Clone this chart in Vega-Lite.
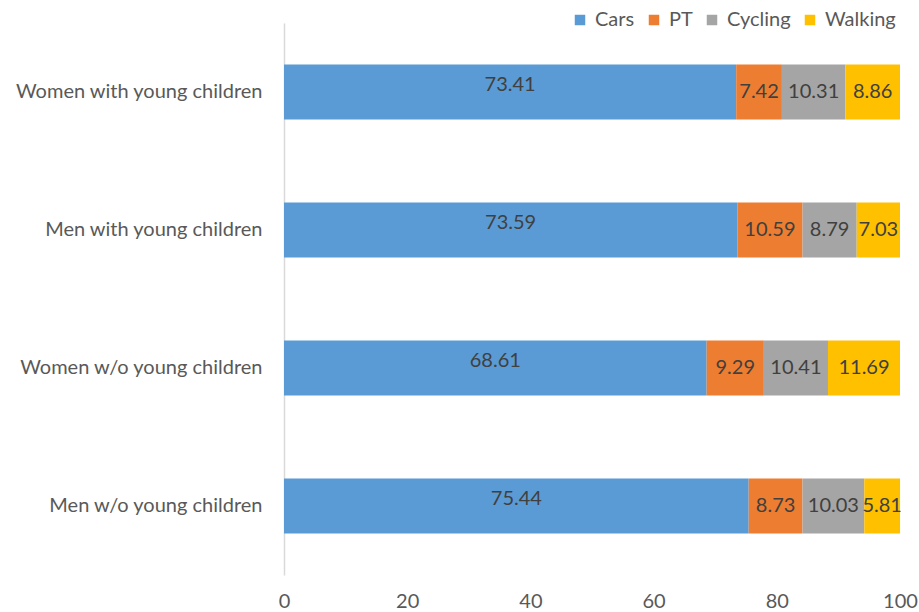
{
  "$schema": "https://vega.github.io/schema/vega-lite/v6.json",
  "autosize": "none",
  "width": 616,
  "height": 552,
  "padding": {"left": 284, "top": 23, "right": 19, "bottom": 37},
  "background": "white",
  "config": {
    "font": "Lato",
    "view": {"stroke": null}
  },
  "data": {
    "values": [
      {"group": "Women with young children", "mode": "Cars", "o": 1, "value": 73.41},
      {"group": "Women with young children", "mode": "PT", "o": 2, "value": 7.42},
      {"group": "Women with young children", "mode": "Cycling", "o": 3, "value": 10.31},
      {"group": "Women with young children", "mode": "Walking", "o": 4, "value": 8.86},
      {"group": "Men with young children", "mode": "Cars", "o": 1, "value": 73.59},
      {"group": "Men with young children", "mode": "PT", "o": 2, "value": 10.59},
      {"group": "Men with young children", "mode": "Cycling", "o": 3, "value": 8.79},
      {"group": "Men with young children", "mode": "Walking", "o": 4, "value": 7.03},
      {"group": "Women w/o young children", "mode": "Cars", "o": 1, "value": 68.61},
      {"group": "Women w/o young children", "mode": "PT", "o": 2, "value": 9.29},
      {"group": "Women w/o young children", "mode": "Cycling", "o": 3, "value": 10.41},
      {"group": "Women w/o young children", "mode": "Walking", "o": 4, "value": 11.69},
      {"group": "Men w/o young children", "mode": "Cars", "o": 1, "value": 75.44},
      {"group": "Men w/o young children", "mode": "PT", "o": 2, "value": 8.73},
      {"group": "Men w/o young children", "mode": "Cycling", "o": 3, "value": 10.03},
      {"group": "Men w/o young children", "mode": "Walking", "o": 4, "value": 5.81}
    ]
  },
  "encoding": {
    "y": {
      "field": "group",
      "type": "nominal",
      "sort": ["Women with young children", "Men with young children", "Women w/o young children", "Men w/o young children"],
      "scale": {"paddingInner": 0.6, "paddingOuter": 0.3},
      "axis": {
        "title": null,
        "ticks": false,
        "domainColor": "#D9D9D9",
        "domainWidth": 1.5,
        "labelFontSize": 20,
        "labelColor": "#595959",
        "labelPadding": 22,
        "labelLimit": 400,
        "labelFont": "Lato"
      }
    },
    "x": {
      "field": "value",
      "type": "quantitative",
      "stack": "zero",
      "scale": {"domain": [0, 100], "nice": false},
      "axis": {
        "title": null,
        "values": [0, 20, 40, 60, 80, 100],
        "grid": false,
        "domain": false,
        "ticks": false,
        "labelFontSize": 20,
        "labelColor": "#595959",
        "labelPadding": 16,
        "labelFlush": false
      }
    },
    "order": {"field": "o", "type": "quantitative"}
  },
  "layer": [
    {
      "mark": {"type": "bar"},
      "encoding": {
        "color": {
          "field": "mode",
          "type": "nominal",
          "sort": ["Cars", "PT", "Cycling", "Walking"],
          "scale": {"domain": ["Cars", "PT", "Cycling", "Walking"], "range": ["#5B9BD5", "#ED7D31", "#A5A5A5", "#FFC000"]},
          "legend": {
            "title": null,
            "orient": "none",
            "direction": "horizontal",
            "legendX": 286,
            "legendY": -13,
            "symbolType": "square",
            "symbolSize": 110,
            "symbolStrokeWidth": 0,
            "labelFontSize": 20,
            "labelColor": "#595959",
            "columnPadding": 9,
            "labelOffset": 5
          }
        }
      }
    },
    {
      "transform": [{"filter": "datum.mode === 'Cars'"}],
      "mark": {"type": "text", "fontSize": 20, "color": "#404040", "dy": -7},
      "encoding": {
        "x": {"field": "value", "type": "quantitative", "stack": "zero", "bandPosition": 0.5},
        "text": {"field": "value", "type": "quantitative", "format": ".2f"}
      }
    },
    {
      "mark": {"type": "text", "fontSize": 20, "color": "#404040"},
      "encoding": {
        "x": {"field": "value", "type": "quantitative", "stack": "zero", "bandPosition": 0.5},
        "text": {"field": "value", "type": "quantitative", "format": ".2f"},
        "opacity": {"condition": {"test": "datum.mode === 'Cars'", "value": 0}, "value": 1}
      }
    }
  ]
}
